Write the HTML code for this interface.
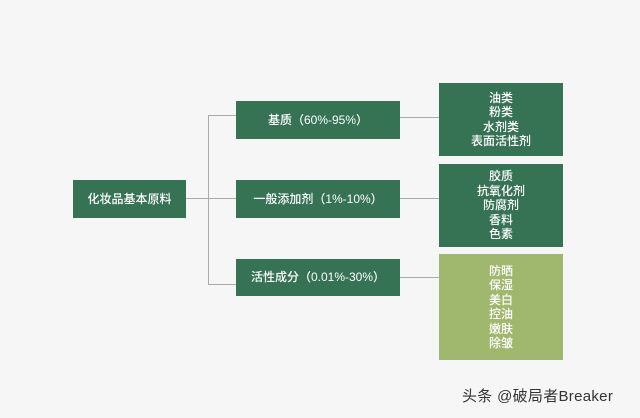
<html><head><style>
body{margin:0;width:640px;height:418px;background:#f6f6f6;position:relative;font-family:"Liberation Sans","Noto Sans CJK SC",sans-serif;overflow:hidden}
.b{position:absolute;background:#367254;color:#fff;font-size:12px;display:flex;align-items:center;justify-content:center;text-align:center;line-height:14.5px;font-weight:500}
.l{position:absolute;background:#aaa}
</style></head><body>
<div class="l" style="left:186px;top:198px;width:22px;height:1px"></div>
<div class="l" style="left:208px;top:115px;width:1px;height:170px"></div>
<div class="l" style="left:208px;top:115px;width:28px;height:1px"></div>
<div class="l" style="left:208px;top:198px;width:28px;height:1px"></div>
<div class="l" style="left:208px;top:284px;width:28px;height:1px"></div>
<div class="l" style="left:400px;top:117px;width:39px;height:1px"></div>
<div class="l" style="left:400px;top:198px;width:39px;height:1px"></div>
<div class="l" style="left:400px;top:277px;width:39px;height:1px"></div>
<div class="b" style="left:73px;top:180px;width:113px;height:38px">化妆品基本原料</div>
<div class="b" style="left:236px;top:101px;width:164px;height:38px">基质（60%-95%）</div>
<div class="b" style="left:236px;top:180px;width:164px;height:38px">一般添加剂（1%-10%）</div>
<div class="b" style="left:236px;top:259px;width:164px;height:37px">活性成分（0.01%-30%）</div>
<div class="b" style="left:439px;top:83px;width:124px;height:73px">油类<br>粉类<br>水剂类<br>表面活性剂</div>
<div class="b" style="left:439px;top:164px;width:124px;height:83px">胶质<br>抗氧化剂<br>防腐剂<br>香料<br>色素</div>
<div class="b" style="left:439px;top:254px;width:124px;height:106px;background:#9fb86e">防晒<br>保湿<br>美白<br>控油<br>嫩肤<br>除皱</div>
<div style="position:absolute;left:462px;top:385px;font-size:15px;color:#333;letter-spacing:0.3px">头条 @破局者Breaker</div>
</body></html>
